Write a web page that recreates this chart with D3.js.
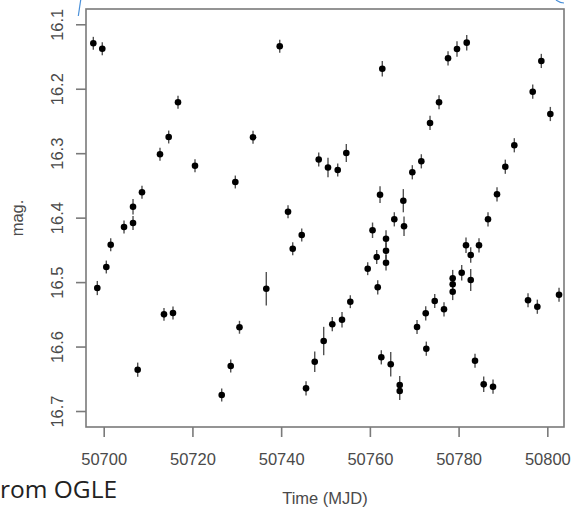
<!DOCTYPE html>
<html>
<head>
<meta charset="utf-8">
<script src="https://cdn.jsdelivr.net/npm/d3@7"></script>
<style>
  html, body { margin: 0; padding: 0; background: #fff; }
  svg { display: block; }
</style>
</head>
<body>
<svg id="chart" width="572" height="509"></svg>
<script>
// ---- data ----
const times = [
  50697.66, 50699.68, 50698.56, 50700.59, 50701.58, 50704.58, 50706.61, 50706.61, 50708.63, 50707.66,
  50712.69, 50713.59, 50714.65, 50715.62, 50716.75, 50720.58, 50726.60, 50728.63, 50729.67, 50730.61,
  50733.66, 50736.65, 50739.68, 50741.55, 50742.61, 50744.64, 50745.61, 50747.57, 50748.47, 50749.59,
  50750.56, 50751.53, 50752.75, 50753.72, 50754.69, 50755.59, 50759.51, 50760.60, 50761.54, 50761.77,
  50762.29, 50762.80, 50762.58, 50763.64, 50763.64, 50763.64, 50764.70, 50765.51, 50766.73, 50766.73,
  50767.54, 50767.70, 50769.57, 50770.63, 50771.60, 50772.72, 50773.56, 50772.59, 50774.62, 50775.59,
  50776.71, 50777.62, 50778.67, 50778.67, 50778.67, 50779.64, 50780.70, 50781.67, 50781.83, 50782.73,
  50782.73, 50783.70, 50784.60, 50785.66, 50786.63, 50787.76, 50788.66, 50790.53, 50792.56, 50795.65,
  50796.71, 50797.75, 50798.65, 50800.68, 50802.64
];
const mags = [
  16.1295, 16.1379, 16.5092, 16.4766, 16.4420, 16.4145, 16.3830, 16.4083, 16.3607, 16.6359,
  16.3017, 16.5500, 16.2749, 16.5479, 16.2210, 16.3194, 16.6752, 16.6302, 16.3447, 16.5701,
  16.2753, 16.5102, 16.1341, 16.3908, 16.4482, 16.4269, 16.6648, 16.6235, 16.3098, 16.5914,
  16.3222, 16.5653, 16.3261, 16.5585, 16.2997, 16.5304, 16.4792, 16.4196, 16.4611, 16.5081,
  16.3644, 16.1689, 16.6167, 16.4327, 16.4513, 16.4699, 16.6275, 16.4026, 16.6597, 16.6690,
  16.3737, 16.4134, 16.3296, 16.5697, 16.3126, 16.6033, 16.2531, 16.5484, 16.5293, 16.2210,
  16.5422, 16.1528, 16.4941, 16.5034, 16.5149, 16.1383, 16.4854, 16.4429, 16.1285, 16.4580,
  16.4967, 16.6220, 16.4429, 16.6586, 16.4026, 16.6623, 16.3638, 16.3210, 16.2877, 16.5282,
  16.2046, 16.5382, 16.1569, 16.2392, 16.5196
];
const errs = [
  0.010, 0.010, 0.011, 0.010, 0.010, 0.010, 0.012, 0.011, 0.010, 0.011,
  0.010, 0.010, 0.010, 0.010, 0.010, 0.010, 0.010, 0.010, 0.010, 0.010,
  0.010, 0.026, 0.010, 0.010, 0.010, 0.010, 0.011, 0.016, 0.011, 0.022,
  0.015, 0.011, 0.010, 0.012, 0.014, 0.010, 0.010, 0.012, 0.011, 0.011,
  0.013, 0.012, 0.011, 0.013, 0.013, 0.012, 0.019, 0.011, 0.014, 0.014,
  0.018, 0.015, 0.011, 0.011, 0.011, 0.011, 0.011, 0.011, 0.011, 0.011,
  0.011, 0.011, 0.013, 0.012, 0.013, 0.012, 0.012, 0.012, 0.012, 0.012,
  0.017, 0.011, 0.011, 0.012, 0.011, 0.011, 0.011, 0.011, 0.011, 0.011,
  0.011, 0.011, 0.011, 0.011, 0.011
];
const xTicks = [50700, 50720, 50740, 50760, 50780, 50800];
const yTicks = [16.1, 16.2, 16.3, 16.4, 16.5, 16.6, 16.7];
const xLabel = "Time (MJD)";
const yLabel = "mag.";
const captionText = "rom OGLE";   // caption as visible in the cropped reference

// ---- layout ----
const svg = d3.select("#chart");
const plot = { left: 86, right: 564, top: 9, bottom: 427 };

const x = d3.scaleLinear().domain([50696.01, 50803.76]).range([plot.left, plot.right]);
const y = d3.scaleLinear().domain([16.0763, 16.7248]).range([plot.top, plot.bottom]);

const axisColor = "#7a7a7a";
const textColor = "#4a4a4a";
const fontFam = "'Liberation Sans', Arial, Helvetica, sans-serif";

// error bars
const pts = times.map((t, i) => ({ t, m: mags[i], e: errs[i] }));
svg.append("g").selectAll("line").data(pts).join("line")
  .attr("x1", d => x(d.t)).attr("x2", d => x(d.t))
  .attr("y1", d => y(d.m - d.e)).attr("y2", d => y(d.m + d.e))
  .attr("stroke", "#333").attr("stroke-width", 1.4).attr("stroke-opacity", 0.85);

// points
svg.append("g").selectAll("circle").data(pts).join("circle")
  .attr("cx", d => x(d.t)).attr("cy", d => y(d.m))
  .attr("r", 3.3).attr("fill", "#000");

// box
svg.append("rect")
  .attr("x", plot.left).attr("y", plot.top)
  .attr("width", plot.right - plot.left).attr("height", plot.bottom - plot.top)
  .attr("fill", "none").attr("stroke", axisColor).attr("stroke-width", 1.6);

// x axis
const xAxis = d3.axisBottom(x).tickValues(xTicks).tickFormat(d3.format("d")).tickSize(10).tickPadding(16);
const gx = svg.append("g").attr("transform", `translate(0,${plot.bottom})`).call(xAxis);
gx.select(".domain").remove();
gx.selectAll(".tick line").attr("stroke", axisColor).attr("stroke-width", 1.6);
gx.selectAll(".tick text").attr("fill", textColor).attr("font-family", fontFam).attr("font-size", 16.5);

// y axis (rotated labels as in R)
const yAxis = d3.axisLeft(y).tickValues(yTicks).tickFormat(d3.format(".1f")).tickSize(10);
const gy = svg.append("g").attr("transform", `translate(${plot.left},0)`).call(yAxis);
gy.select(".domain").remove();
gy.selectAll(".tick line").attr("stroke", axisColor).attr("stroke-width", 1.6);
gy.selectAll(".tick text")
  .attr("fill", textColor).attr("font-family", fontFam).attr("font-size", 16.5)
  .attr("x", 0).attr("dy", 0).attr("text-anchor", "middle")
  .attr("transform", "translate(-23,0) rotate(-90)");

// axis titles
svg.append("text").attr("x", (plot.left + plot.right) / 2).attr("y", 504)
  .attr("text-anchor", "middle").attr("fill", textColor)
  .attr("font-family", fontFam).attr("font-size", 16.5).text(xLabel);
svg.append("text")
  .attr("transform", `translate(23,${(plot.top + plot.bottom) / 2}) rotate(-90)`)
  .attr("text-anchor", "middle").attr("fill", textColor)
  .attr("font-family", fontFam).attr("font-size", 16.5).text(yLabel);

// page decorations around the cropped image
svg.append("line").attr("x1", 80.7).attr("y1", 0).attr("x2", 78.3).attr("y2", 16)
  .attr("stroke", "#4a90d9").attr("stroke-width", 1.2);
svg.append("path").attr("d", "M556,0 Q560,3 564,3")
  .attr("fill", "none").attr("stroke", "#4a90d9").attr("stroke-width", 1.2);

svg.append("text").attr("x", 0).attr("y", 498)
  .attr("font-family", "'Open Sans', sans-serif").attr("font-size", 24.5)
  .attr("fill", "#222").text(captionText);
</script>
</body>
</html>
